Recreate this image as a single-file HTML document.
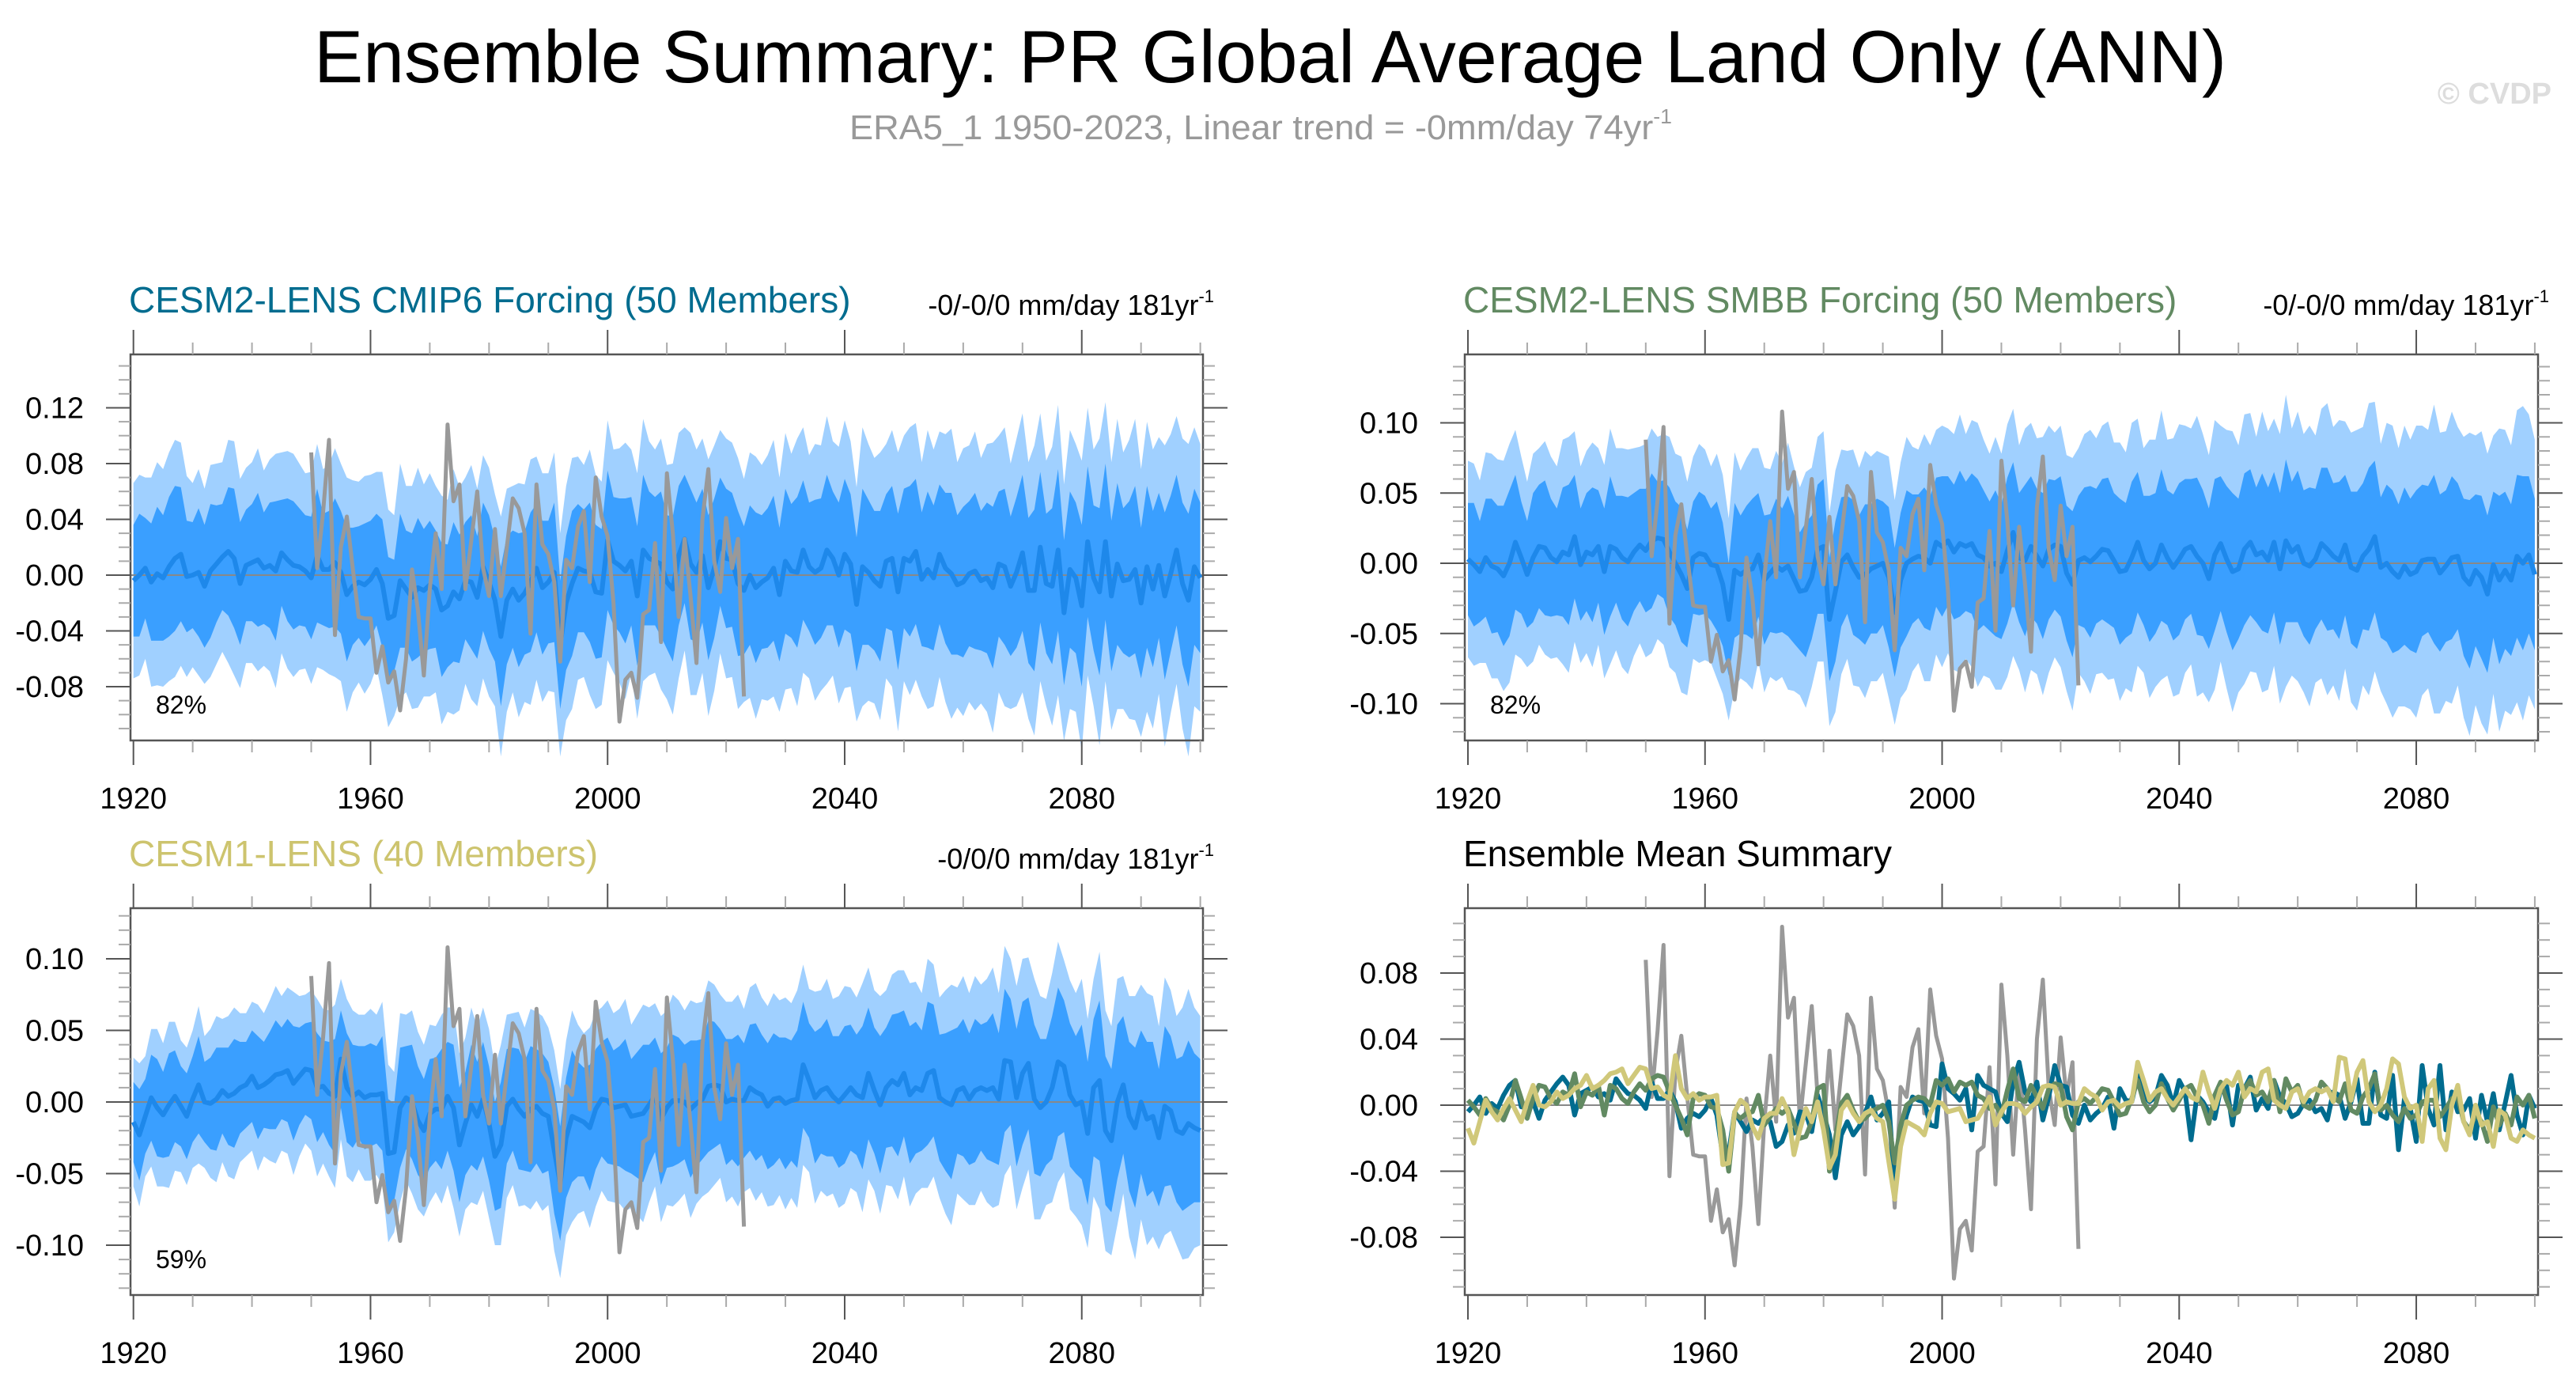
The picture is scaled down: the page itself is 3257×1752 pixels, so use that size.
<!DOCTYPE html>
<html><head><meta charset="utf-8"><style>
html,body{margin:0;padding:0;background:#fff;}
svg{display:block;font-family:"Liberation Sans",Arial,sans-serif;}
</style></head><body>
<svg id="chart" width="3257" height="1752" viewBox="0 0 3257 1752" xmlns="http://www.w3.org/2000/svg">
<rect width="3257" height="1752" fill="#fff"/>
<text x="1606" y="104" font-size="94" text-anchor="middle" textLength="2418" lengthAdjust="spacingAndGlyphs">Ensemble Summary: PR Global Average Land Only (ANN)</text>
<text x="1074" y="176" font-size="44" fill="#999" textLength="1040" lengthAdjust="spacingAndGlyphs">ERA5_1 1950-2023, Linear trend = -0mm/day 74yr<tspan font-size="26" dy="-20">-1</tspan></text>
<text x="3226" y="131" font-size="38" font-weight="bold" fill="#ddd" text-anchor="end">© CVDP</text>
<g id="plots"></g>
</svg>
<script>
const years = []; for (let y = 1920; y <= 2100; y++) years.push(y);
const obsYears = []; for (let y = 1950; y <= 2023; y++) obsYears.push(y);
const obs = [0.088,0.005,0.045,0.097,-0.043,0.02,0.042,0.005,-0.03,-0.031,
-0.031,-0.07,-0.051,-0.077,-0.069,-0.097,-0.06,0.004,-0.025,-0.072,
-0.01,0.03,-0.01,0.108,0.053,0.065,-0.01,0.025,0.06,0.005,
-0.015,0.033,-0.015,0.02,0.055,0.048,0.03,-0.042,0.065,0.022,
0.015,-0.005,-0.062,0.011,0.005,0.035,0.046,-0.005,0.07,0.042,
0.028,-0.02,-0.105,-0.075,-0.07,-0.088,-0.028,-0.025,0.023,-0.048,
0.073,0.03,-0.03,0.026,-0.015,-0.063,0.04,0.076,0.01,-0.012,
0.041,0.005,0.026,-0.087];
const meanCmip6 = [-0.004,0.0,0.005,-0.005,0.001,-0.002,0.006,0.012,0.015,-0.001,
0.000,0.002,-0.008,0.003,0.008,0.013,0.017,0.012,-0.006,0.007,
0.009,0.011,0.005,0.007,0.003,0.016,0.011,0.007,0.006,0.003,
-0.002,0.014,0.004,0.004,0.009,0.002,-0.014,-0.008,-0.005,-0.007,
-0.003,0.004,-0.006,-0.031,-0.029,-0.004,-0.01,-0.016,-0.009,-0.011,
-0.007,-0.01,-0.025,-0.022,-0.012,-0.017,-0.004,-0.005,-0.016,0.006,
-0.005,-0.018,-0.044,-0.018,-0.01,-0.018,-0.013,-0.005,0.005,-0.009,
-0.005,0.002,-0.05,-0.02,-0.006,0.005,0.003,0.002,-0.012,-0.013,
0.025,0.01,0.007,0.003,0.01,-0.015,0.018,0.012,0.01,0.008,
-0.005,-0.01,0.014,0.026,0.008,0.002,0.014,-0.009,0.005,0.024,
0.012,0.011,-0.006,-0.011,0.0,-0.009,-0.005,-0.002,0.005,-0.014,
0.01,0.003,0.002,0.018,0.006,0.002,0.005,0.018,0.012,0.0,
0.015,0.008,-0.021,0.006,0.002,-0.004,-0.008,0.01,0.012,-0.012,
0.012,0.01,0.017,-0.003,0.004,-0.002,0.015,0.005,0.001,-0.007,
-0.005,0.001,0.003,-0.004,-0.002,-0.009,0.008,0.006,-0.008,0.002,
0.016,-0.011,-0.011,0.02,-0.006,-0.008,0.018,-0.027,0.004,-0.002,
-0.022,0.024,-0.002,-0.012,0.024,-0.015,0.008,-0.004,-0.003,0.004,
-0.02,0.006,-0.01,0.007,-0.015,0.001,0.018,-0.006,-0.018,0.006,
-0.002];
const meanSmbb = [0.003,-0.001,-0.006,0.004,-0.002,-0.004,-0.009,0.0,0.015,0.004,
-0.008,0.004,0.012,0.011,0.004,0.001,0.008,0.006,0.019,-0.001,
0.008,0.006,0.012,-0.006,0.012,0.01,0.004,0.001,0.008,0.013,
0.009,0.016,0.018,0.017,0.008,0.0,-0.008,-0.018,0.004,0.007,
0.006,-0.001,-0.002,-0.015,-0.04,-0.005,-0.008,-0.005,-0.004,0.006,
-0.012,-0.007,-0.002,-0.005,-0.002,-0.011,-0.02,-0.019,-0.01,0.01,
0.012,-0.04,-0.02,0.001,0.006,-0.003,-0.01,-0.008,-0.004,-0.002,
0.0,-0.01,-0.035,-0.012,0.0,0.003,0.005,0.004,0.0,0.015,
0.012,0.016,0.008,0.014,0.012,0.014,0.006,0.004,-0.002,0.0,
-0.006,0.009,0.022,0.004,0.002,0.012,0.005,-0.002,0.01,0.013,
0.012,-0.007,-0.015,0.002,0.004,0.001,0.005,0.01,0.009,0.002,
-0.006,-0.005,0.004,0.015,0.002,-0.004,0.0,0.013,0.004,-0.003,
0.003,0.01,0.012,0.005,0.0,-0.011,0.006,0.014,0.003,-0.006,
-0.004,0.01,0.015,0.006,0.008,0.002,0.015,-0.004,0.016,0.008,
0.012,0.0,-0.002,0.003,0.014,0.01,0.005,0.002,0.013,-0.003,
-0.005,0.005,0.01,0.019,-0.003,0.0,-0.006,-0.01,-0.002,-0.008,
-0.006,0.002,0.003,0.003,-0.007,-0.002,0.004,0.005,-0.01,-0.015,
-0.005,-0.01,-0.022,-0.001,-0.012,-0.005,-0.012,0.005,0.0,0.006,
-0.008];
const meanCesm1 = [-0.014,-0.023,-0.01,0.003,-0.004,-0.009,-0.002,0.004,-0.003,-0.01,
0.002,0.012,0.0,-0.001,0.002,0.008,0.004,0.006,0.01,0.012,
0.018,0.01,0.012,0.015,0.019,0.02,0.022,0.013,0.018,0.023,
0.022,0.01,0.011,0.006,0.004,0.03,0.01,0.004,0.007,0.003,
0.005,0.005,0.006,-0.036,-0.035,-0.004,0.003,0.0,-0.013,-0.02,
-0.008,-0.005,-0.005,0.004,-0.004,-0.03,-0.015,-0.002,-0.01,0.002,
-0.015,-0.038,-0.03,-0.003,0.002,-0.005,-0.01,-0.005,-0.003,-0.008,
-0.01,-0.034,-0.057,-0.025,-0.01,-0.012,-0.014,-0.018,-0.005,0.002,
0.001,-0.004,-0.003,-0.002,-0.01,-0.009,-0.008,-0.002,0.005,-0.012,
-0.004,0.001,0.001,0.0,-0.005,-0.001,0.002,0.011,0.012,0.011,
0.0,0.002,0.001,0.001,0.01,0.007,0.005,-0.003,0.002,0.003,
-0.001,0.001,0.002,0.026,0.015,0.003,0.008,0.01,0.004,0.0,
0.005,0.01,0.005,0.003,0.02,0.008,-0.002,0.01,0.015,0.012,
0.02,0.005,0.01,0.008,0.02,0.022,0.003,0.0,-0.002,0.008,
0.01,0.002,0.008,0.01,0.008,0.01,0.002,0.029,0.028,0.003,
0.02,0.027,0.002,-0.004,0.0,0.01,0.028,0.025,0.005,-0.002,
0.0,-0.022,0.01,0.015,-0.02,-0.027,0.0,0.012,-0.01,-0.018,
0.0,-0.012,-0.01,-0.025,-0.003,-0.006,-0.02,-0.022,-0.015,-0.018,
-0.02];
// band half-widths in thousandths of mm/day
const innerWidthCesm2 = [40,44,36,42,48,45,50,52,48,40,38,46,44,48,42,38,46,50,44,40,42,48,40,45,50,38,44,46,42,40,44,48,40,42,46,44,48,42,40,44,42,40,46,44,40,48,42,46,50,44,46,42,48,44,50,46,42,48,44,46,48,44,50,46,42,48,44,50,46,48,44,50,46,48,52,46,44,50,48,46,50,46,48,52,46,50,54,48,46,52,48,52,50,46,54,50,48,52,50,46,50,48,52,46,50,54,48,50,52,48,52,48,54,50,46,52,50,54,48,52,54,50,48,56,52,50,54,48,52,56,50,54,52,48,56,52,50,54,58,50,54,52,56,50,54,58,52,56,50,54,56,52,58,54,50,56,58,52,56,54,58,54,52,60,56,54,58,52,56,60,54,58,56,52,60,56,54,58,62,56,54];
const outerWidthCesm2 = [70,72,65,75,80,78,82,85,80,72,66,74,70,76,72,68,80,84,75,70,72,80,70,76,84,72,78,80,74,70,76,80,72,75,82,78,84,76,72,78,75,70,80,78,72,84,74,80,86,76,80,74,82,76,88,80,74,84,78,80,82,76,86,80,74,84,78,88,80,82,78,86,80,84,90,80,76,88,84,80,86,80,84,92,80,88,94,84,80,90,84,90,88,80,94,88,84,92,88,80,86,84,90,80,88,94,84,88,92,84,92,84,96,88,80,92,88,96,84,92,96,88,84,100,92,88,96,84,92,100,88,96,92,84,100,92,88,96,104,88,96,92,100,88,96,104,92,100,88,96,100,92,104,96,88,100,104,92,100,96,104,96,92,110,100,96,104,92,100,108,96,104,100,92,108,100,96,104,112,100,96];
const innerWidthCesm1 = [28,32,26,30,34,30,36,32,28,30,30,34,28,32,36,30,34,38,32,30,32,36,30,34,38,32,36,40,34,32,34,38,32,36,40,34,38,36,32,36,36,34,40,38,34,42,36,40,38,36,38,36,42,38,44,40,36,42,38,40,40,38,44,40,36,42,38,44,40,42,38,44,40,42,46,40,38,44,42,40,44,40,42,46,40,44,48,42,40,46,42,46,44,40,48,44,42,46,44,40,44,42,46,40,44,48,42,44,46,42,46,42,48,44,40,46,44,48,42,46,48,44,42,50,46,44,48,42,46,50,44,48,46,42,50,46,44,48,52,44,48,46,50,44,48,52,46,50,44,48,50,46,52,48,44,50,52,46,50,48,54,50,48,56,52,50,54,48,52,56,50,54,52,48,56,52,50,54,58,52,50];
const outerWidthCesm1 = [45,50,42,48,55,50,58,52,46,48,48,55,46,52,58,50,56,60,52,50,52,58,50,56,62,54,58,64,56,52,56,62,54,58,64,56,62,60,54,58,60,56,64,62,56,66,58,64,62,60,62,58,66,62,70,64,60,68,62,64,66,62,70,64,60,68,62,70,66,68,62,70,66,68,74,66,62,70,68,64,70,66,68,74,64,70,76,68,64,72,68,74,70,64,76,70,68,74,70,64,70,68,74,64,70,76,68,70,74,68,74,68,76,70,64,74,70,76,68,74,76,70,68,80,74,70,76,68,74,80,72,78,74,68,80,74,70,78,84,72,78,74,80,72,78,84,74,80,72,78,80,74,84,78,72,80,84,74,80,78,86,80,76,90,84,80,86,76,84,92,82,88,84,78,90,84,80,88,94,84,80];

const NS = 'http://www.w3.org/2000/svg';
const root = document.getElementById('plots');
function el(tag, attrs, parent) {
  const e = document.createElementNS(NS, tag);
  for (const k in attrs) e.setAttribute(k, attrs[k]);
  (parent || root).appendChild(e);
  return e;
}

function makePanel(cfg) {
  const g = el('g', {});
  
  
  const X = y => cfg.x0 + (y - 1920) * cfg.pxYear;
  const Y = v => cfg.y0 - v * cfg.pxUnit;
  if (cfg.mean) {
    const bands = [[cfg.outer, '#a0d0ff', 'outer-spread-band'], [cfg.inner, '#3a9fff', 'inner-spread-band']];
    bands.forEach(b => {
      let up = [], lo = [];
      years.forEach((yr, i) => {
        up.push(X(yr).toFixed(1) + ',' + Y(cfg.mean[i] + b[0][i] / 1000).toFixed(1));
        lo.unshift(X(yr).toFixed(1) + ',' + Y(cfg.mean[i] - b[0][i] / 1000).toFixed(1));
      });
      const p = el('polygon', {points: up.concat(lo).join(' '), fill: b[1]}, g);
      
      
    });
  }
  const z = el('line', {x1: cfg.bx0, x2: cfg.bx1, y1: Y(0), y2: Y(0), stroke: '#888', 'stroke-width': 2}, g);
  
  
  const line = (vals, yrs, color, w, nm) => {
    const pts = vals.map((v, i) => X(yrs[i]).toFixed(1) + ',' + Y(v).toFixed(1)).join(' ');
    const p = el('polyline', {points: pts, fill: 'none', stroke: color, 'stroke-width': w, 'stroke-linejoin': 'round'}, g);
    
    
  };
  if (cfg.mean) {
    line(cfg.mean, years, '#1e88ea', 6, 'ensemble-mean-line');
    line(obs, obsYears, '#999', 5, 'observed-era5-line');
  } else {
    line(obs, obsYears, '#999', 5, 'observed-era5-line');
    line(meanCmip6, years, '#006c8f', 6, 'cesm2-cmip6-mean-line');
    line(meanSmbb, years, '#628a62', 6, 'cesm2-smbb-mean-line');
    line(meanCesm1, years, '#d0c87a', 6, 'cesm1-mean-line');
  }
  const bx = el('rect', {x: cfg.bx0, y: cfg.by0, width: cfg.bx1 - cfg.bx0, height: cfg.by1 - cfg.by0, fill: 'none', stroke: '#555', 'stroke-width': 2.5}, g);
  
  
  for (let yr = 1920; yr <= 2100; yr += 10) {
    const major = (yr % 40 === 0);
    const L = major ? 31 : 15;
    const c = major ? '#555' : '#aaa';
    el('line', {x1: X(yr), x2: X(yr), y1: cfg.by0, y2: cfg.by0 - L, stroke: c, 'stroke-width': 2}, g);
    el('line', {x1: X(yr), x2: X(yr), y1: cfg.by1, y2: cfg.by1 + L, stroke: c, 'stroke-width': 2}, g);
    if (major && yr <= 2080) {
      const t = el('text', {x: X(yr), y: cfg.by1 + 86, 'font-size': 38, 'text-anchor': 'middle'}, g);
      t.textContent = yr;
      
      
    }
  }
  const vmin = -(cfg.by1 - cfg.y0) / cfg.pxUnit, vmax = (cfg.y0 - cfg.by0) / cfg.pxUnit;
  for (let k = Math.ceil(vmin * 100 + 0.3); k <= Math.floor(vmax * 100 - 0.3); k++) {
    const v = k / 100, major = cfg.yTicks.some(t => Math.abs(t - v) < 1e-6);
    const L = major ? 31 : 15;
    const c = major ? '#555' : '#aaa';
    el('line', {x1: cfg.bx0, x2: cfg.bx0 - L, y1: Y(v), y2: Y(v), stroke: c, 'stroke-width': 2}, g);
    el('line', {x1: cfg.bx1, x2: cfg.bx1 + L, y1: Y(v), y2: Y(v), stroke: c, 'stroke-width': 2}, g);
  }
  cfg.yTicks.forEach((v, i) => {
    const t = el('text', {x: cfg.bx0 - 59, y: Y(v) + 13, 'font-size': 38, 'text-anchor': 'end'}, g);
    t.textContent = cfg.yLabels[i];
    
    
  });
  const tt = el('text', {x: cfg.bx0 - 2, y: cfg.by0 - 53, 'font-size': 46, fill: cfg.titleColor}, g);
  tt.textContent = cfg.title;
  
  
  if (cfg.trend) {
    const r = el('text', {x: cfg.bx1 + 14, y: cfg.by0 - 50, 'font-size': 36, 'text-anchor': 'end'}, g);
    r.innerHTML = cfg.trend + ' mm/day 181yr<tspan font-size="22" dy="-16">-1</tspan>';
    
    
  }
  if (cfg.pct) {
    const p = el('text', {x: cfg.bx0 + 32, y: cfg.by1 - 34, 'font-size': 32}, g);
    p.textContent = cfg.pct;
    
    
  }
}

makePanel({name: 'panel-cesm2-cmip6', x0: 168.7, pxYear: 7.494, y0: 727, pxUnit: 1763, bx0: 165, bx1: 1521, by0: 448, by1: 936,
  mean: meanCmip6, inner: innerWidthCesm2, outer: outerWidthCesm2,
  yTicks: [0.12, 0.08, 0.04, 0, -0.04, -0.08], yLabels: ['0.12', '0.08', '0.04', '0.00', '-0.04', '-0.08'],
  title: 'CESM2-LENS CMIP6 Forcing (50 Members)', titleColor: '#006c8f', trend: '-0/-0/0', pct: '82%'});
makePanel({name: 'panel-cesm2-smbb', x0: 1856, pxYear: 7.494, y0: 712, pxUnit: 1775, bx0: 1852, bx1: 3209, by0: 448, by1: 936,
  mean: meanSmbb, inner: innerWidthCesm2, outer: outerWidthCesm2,
  yTicks: [0.10, 0.05, 0, -0.05, -0.10], yLabels: ['0.10', '0.05', '0.00', '-0.05', '-0.10'],
  title: 'CESM2-LENS SMBB Forcing (50 Members)', titleColor: '#628a62', trend: '-0/-0/0', pct: '82%'});
makePanel({name: 'panel-cesm1', x0: 168.7, pxYear: 7.494, y0: 1393, pxUnit: 1810, bx0: 165, bx1: 1521, by0: 1148, by1: 1637,
  mean: meanCesm1, inner: innerWidthCesm1, outer: outerWidthCesm1,
  yTicks: [0.10, 0.05, 0, -0.05, -0.10], yLabels: ['0.10', '0.05', '0.00', '-0.05', '-0.10'],
  title: 'CESM1-LENS (40 Members)', titleColor: '#cdc46e', trend: '-0/0/0', pct: '59%'});
makePanel({name: 'panel-ensemble-mean-summary', x0: 1856, pxYear: 7.494, y0: 1397, pxUnit: 2088, bx0: 1852, bx1: 3209, by0: 1148, by1: 1637,
  mean: null,
  yTicks: [0.08, 0.04, 0, -0.04, -0.08], yLabels: ['0.08', '0.04', '0.00', '-0.04', '-0.08'],
  title: 'Ensemble Mean Summary', titleColor: '#000', trend: null, pct: null});
</script>
</body></html>
